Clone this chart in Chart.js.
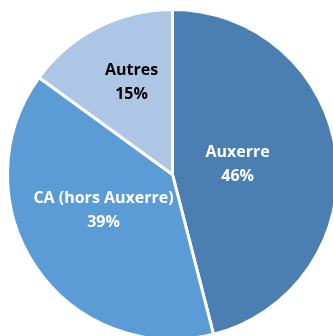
<!DOCTYPE html>
<html>
<head>
<meta charset="utf-8">
<script src="https://cdn.jsdelivr.net/npm/chart.js@4/dist/chart.umd.min.js"></script>
<style>
    html, body { margin: 0; padding: 0; background: #fff; overflow: hidden; }
    #wrap { position: absolute; left: 0; top: 0; width: 346px; height: 352px; }
</style>
</head>
<body>
<div id="wrap"><canvas id="shareChart"></canvas></div>
<script>
const categories = ['Auxerre', 'CA (hors Auxerre)', 'Autres'];
const shares = [46, 39, 15];
const sliceColors = ['#4b7fb1', '#5b9bd6', '#adc6e6'];
const labelColors = ['#ffffff', '#ffffff', '#000000'];

// label placement per slice: fraction of the radius, angle shift in degrees
const labelPlacement = [[0.40, -2], [0.47, 7], [0.61, 3]];

const sliceLabels = {
    id: 'sliceLabels',
    afterDatasetsDraw(chart) {
        const ctx = chart.ctx;
        const meta = chart.getDatasetMeta(0);
        ctx.save();
        ctx.font = "bold 16px 'Open Sans', sans-serif";
        ctx.textAlign = 'center';
        ctx.textBaseline = 'middle';
        meta.data.forEach((arc, i) => {
            const p = labelPlacement[i];
            const mid = (arc.startAngle + arc.endAngle) / 2 + p[1] * Math.PI / 180;
            const r = arc.outerRadius * p[0];
            const x = arc.x + Math.cos(mid) * r;
            const y = arc.y + Math.sin(mid) * r;
            ctx.fillStyle = labelColors[i];
            ctx.fillText(categories[i], x, y - 12);
            ctx.fillText(shares[i] + '%', x, y + 12);
        });
        ctx.restore();
    }
};

new Chart(document.getElementById('shareChart'), {
    type: 'pie',
    data: {
        labels: categories,
        datasets: [{
            data: shares,
            backgroundColor: sliceColors,
            borderColor: '#ffffff',
            borderWidth: 3
        }]
    },
    options: {
        responsive: true,
        maintainAspectRatio: false,
        animation: false,
        layout: { padding: { left: 6, right: 7, top: 8, bottom: 11 } },
        plugins: {
            legend: { display: false },
            tooltip: { enabled: false }
        }
    },
    plugins: [sliceLabels]
});
</script>
</body>
</html>
